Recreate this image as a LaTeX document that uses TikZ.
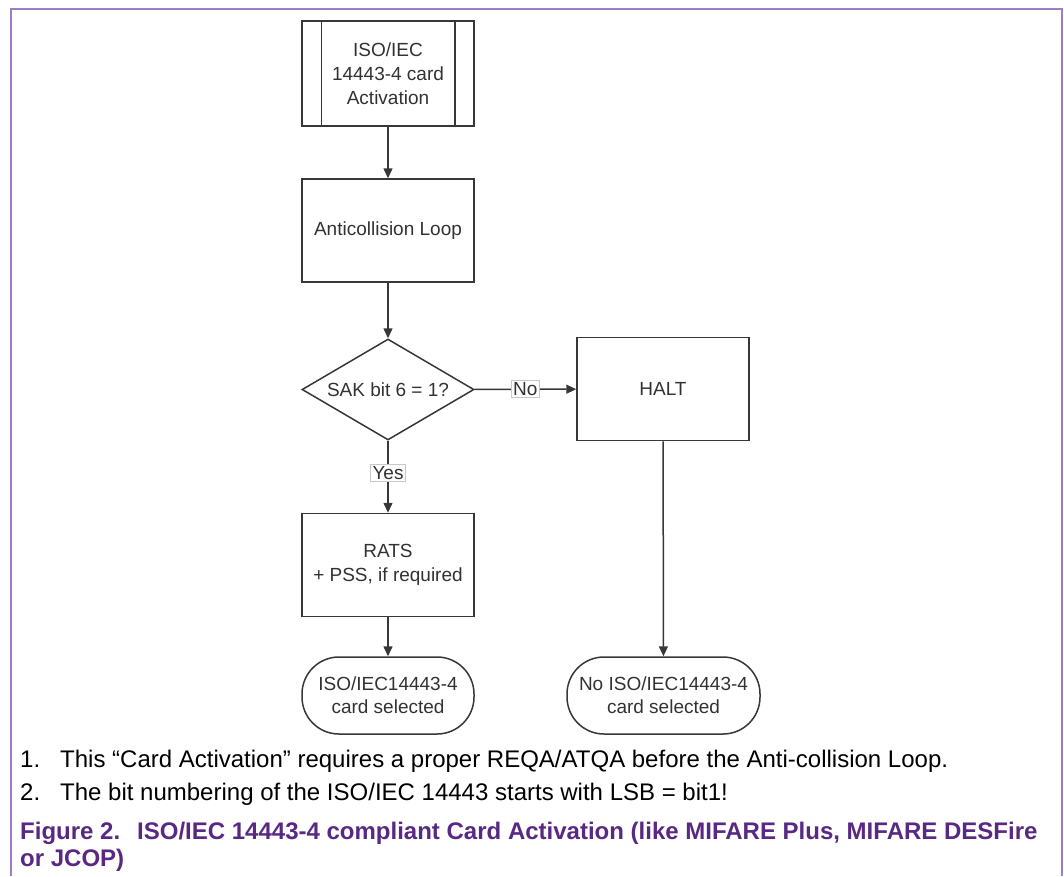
\documentclass[tikz,border=0pt]{standalone}
\usepackage{fontspec}
\setmainfont{Liberation Sans}
\usetikzlibrary{arrows.meta,shapes.geometric,calc}
\definecolor{framec}{RGB}{155,125,200}
\definecolor{linec}{RGB}{55,55,55}
\definecolor{textc}{RGB}{50,50,50}
\definecolor{capc}{RGB}{88,40,130}
\definecolor{lblc}{RGB}{200,200,200}
\tikzset{
  flow/.style={draw=linec, line width=1.5pt, fill=white, minimum width=172pt, minimum height=103pt,
    align=center, text=textc, font=\fontsize{19}{24}\selectfont, inner sep=0pt},
  decision/.style={draw=linec, line width=1.5pt, diamond, aspect=1.7, minimum width=172pt, minimum height=101pt,
    align=center, text=textc, font=\fontsize{19}{24}\selectfont, inner sep=0pt},
  terminal/.style={draw=linec, line width=1.5pt, rounded corners=37pt, minimum height=77pt,
    align=center, text=textc, font=\fontsize{19}{23}\selectfont, inner sep=0pt},
  lbl/.style={draw=lblc, line width=1pt, fill=white, text=textc, font=\fontsize{19}{24}\selectfont, inner sep=2pt},
  conn/.style={draw=linec, line width=1.5pt, -{Triangle[length=10pt,width=9pt]}},
  notetext/.style={anchor=base west, font=\fontsize{24}{28}\selectfont, text=black, inner sep=0pt},
  captext/.style={anchor=base west, font=\bfseries\fontsize{24}{28}\selectfont, text=capc, inner sep=0pt}
}
\begin{document}
\begin{tikzpicture}[x=1pt,y=-1pt]
\useasboundingbox (0,0) rectangle (1064,876);
% outer frame (open at the bottom)
\draw[framec, line width=2pt] (10.5,876) -- (10.5,8.5) -- (1062,8.5) -- (1062,876);

% flow chart
\node[flow, minimum height=105pt] (act) at (388,73.5) {ISO/IEC\\14443-4 card\\Activation};
\draw[linec, line width=1.5pt] ($(act.north west)+(20,0)$) -- ($(act.south west)+(20,0)$);
\draw[linec, line width=1.5pt] ($(act.north east)+(-20,0)$) -- ($(act.south east)+(-20,0)$);
\node[flow] (anti) at (388,230.5) {Anticollision Loop};
\node[decision] (sak) at (388,389.5) {SAK bit 6 = 1?};
\node[flow] (halt) at (663,389) {HALT};
\node[flow] (rats) at (388,565) {RATS\\+ PSS, if required};
\node[terminal, minimum width=172pt] (sel) at (388,695.5) {ISO/IEC14443-4\\card selected};
\node[terminal, minimum width=193pt] (nosel) at (663.5,695.5) {No ISO/IEC14443-4\\card selected};

\draw[conn] (act) -- (anti);
\draw[conn] (anti) -- (sak);
\draw[conn] (sak) -- node[lbl] (no) {No} (halt);
\draw[conn] (sak) -- node[lbl, pos=0.45] (yes) {Yes} (rats);
\draw[conn] (rats) -- (sel);
\draw[conn] (halt) -- (nosel);

% notes
\node[notetext] (n1) at (20,767) {1.\hspace{20pt}This “Card Activation” requires a proper REQA/ATQA before the Anti-collision Loop.};
\node[notetext] (n2) at (20,800) {2.\hspace{20pt}The bit numbering of the ISO/IEC 14443 starts with LSB = bit1!};
\node[captext] (c1) at (20,839) {Figure 2.\hspace{17pt}ISO/IEC 14443-4 compliant Card Activation (like MIFARE Plus, MIFARE DESFire};
\node[captext] (c2) at (20,866) {or JCOP)};
\end{tikzpicture}
\end{document}
